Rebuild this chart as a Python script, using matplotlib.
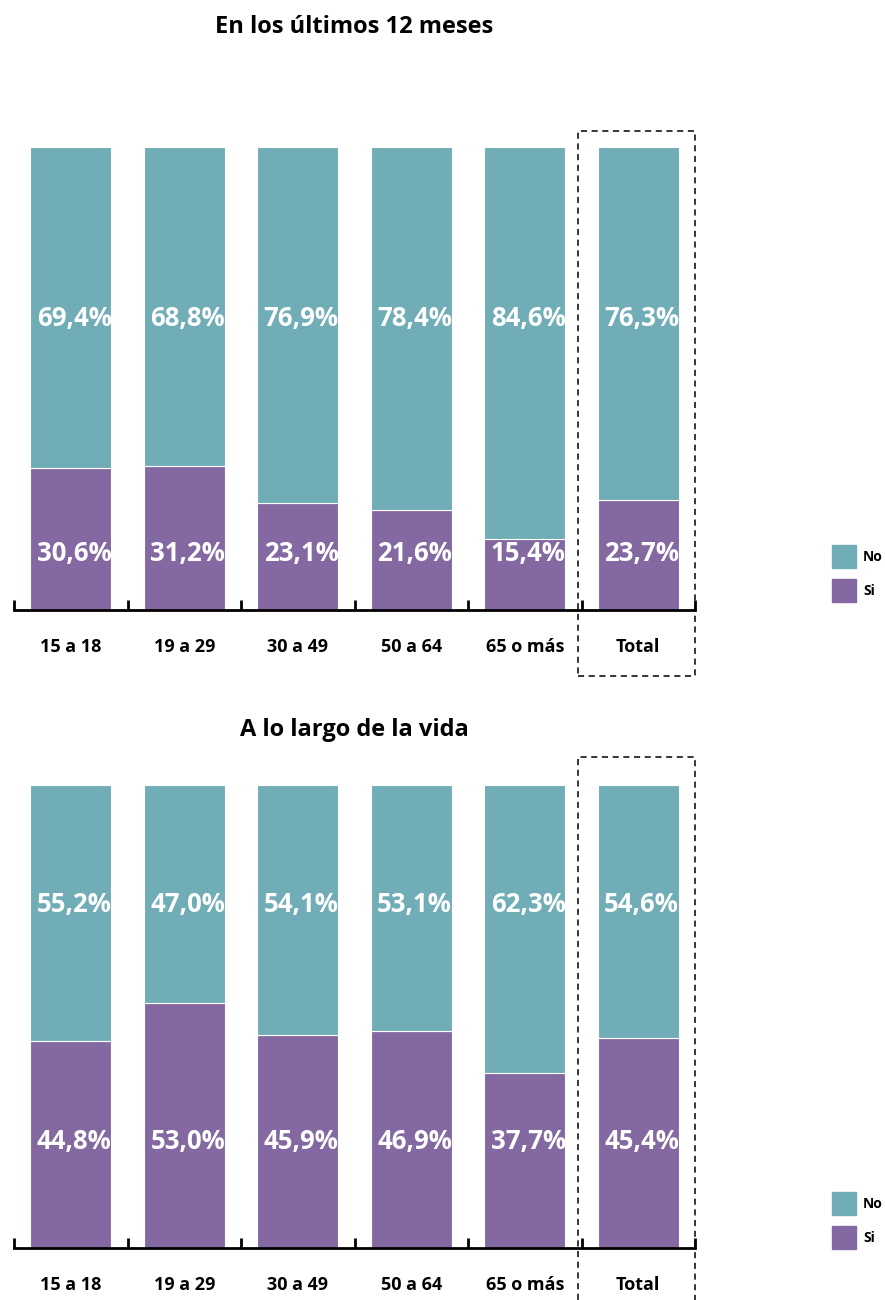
import matplotlib
matplotlib.use("Agg")
import matplotlib.pyplot as plt
from matplotlib.patches import Rectangle
import numpy as np

plt.rcParams['font.family'] = ['Open Sans', 'DejaVu Sans']

# --- Data ---
categories = ["15 a 18", "19 a 29", "30 a 49", "50 a 64", "65 o más", "Total"]
titles = ["En los últimos 12 meses", "A lo largo de la vida"]
legend_labels = ["No", "Si"]

si_12m = [30.6, 31.2, 23.1, 21.6, 15.4, 23.7]
no_12m = [69.4, 68.8, 76.9, 78.4, 84.6, 76.3]

si_vida = [44.8, 53.0, 45.9, 46.9, 37.7, 45.4]
no_vida = [55.2, 47.0, 54.1, 53.1, 62.3, 54.6]

teal = "#70ADB6"
purple = "#8368A2"

W, H = 885, 1300
fig = plt.figure(figsize=(W / 100, H / 100), dpi=100)


def fmt(v):
    return f"{v:.1f}".replace(".", ",") + "%"


panels = [
    # si, no, axes bottom px, title y px, label y (No, Si), rect top, legend top px
    (si_12m, no_12m, 610, 27, 63.0, 12.3, 103.5, 545),
    (si_vida, no_vida, 1248, 730, 74.2, 22.9, 106.0, 1192),
]

x = np.arange(len(categories))
left, right = 14, 695

for i, (si, no, ybot, ytitle, yno, ysi, rtop, legtop) in enumerate(panels):
    ax = fig.add_axes([left / W, 1 - ybot / H, (right - left) / W, 463 / H])
    ax.bar(x, si, width=0.714, color=purple, edgecolor="white", linewidth=0.8)
    ax.bar(x, no, width=0.714, bottom=si, color=teal, edgecolor="white", linewidth=0.8)
    ax.set_xlim(-0.5, len(categories) - 0.5)
    ax.set_ylim(0, 100)

    for xi, s, n in zip(x, si, no):
        ax.text(xi + 0.03, yno, fmt(n), ha="center", va="center", color="white",
                fontsize=18.5, fontweight="bold")
        ax.text(xi + 0.03, ysi, fmt(s), ha="center", va="center", color="white",
                fontsize=18.5, fontweight="bold")

    # axes styling
    for sp in ["top", "right", "left"]:
        ax.spines[sp].set_visible(False)
    ax.spines["bottom"].set_linewidth(2)
    ax.set_yticks([])
    ax.set_xticks(x, categories)
    ax.set_xticks(np.arange(-0.5, len(categories)), minor=True)
    ax.tick_params(axis="x", which="major", length=0, pad=20, labelsize=13)
    ax.tick_params(axis="x", which="minor", direction="in", length=7, width=2)
    for lab in ax.get_xticklabels():
        lab.set_fontweight("bold")

    # dashed box around Total
    ax.add_patch(Rectangle((4.47, -14.3), 5.5 - 4.47, rtop + 14.3, fill=False,
                           linestyle=(0, (4, 3)), linewidth=1.1, edgecolor="black",
                           clip_on=False))

    fig.text(354.5 / W, 1 - ytitle / H, titles[i], ha="center", va="center",
             fontsize=17, fontweight="bold")

    # legend
    for j, (lab, col) in enumerate(zip(legend_labels, [teal, purple])):
        top = legtop + j * 34
        fig.add_artist(Rectangle((832 / W, 1 - (top + 23) / H), 24 / W, 23 / H,
                                 transform=fig.transFigure, color=col))
        fig.text(863 / W, 1 - (top + 12) / H, lab, ha="left", va="center",
                 fontsize=10, fontweight="bold")

fig.savefig("out.png", dpi=100)
